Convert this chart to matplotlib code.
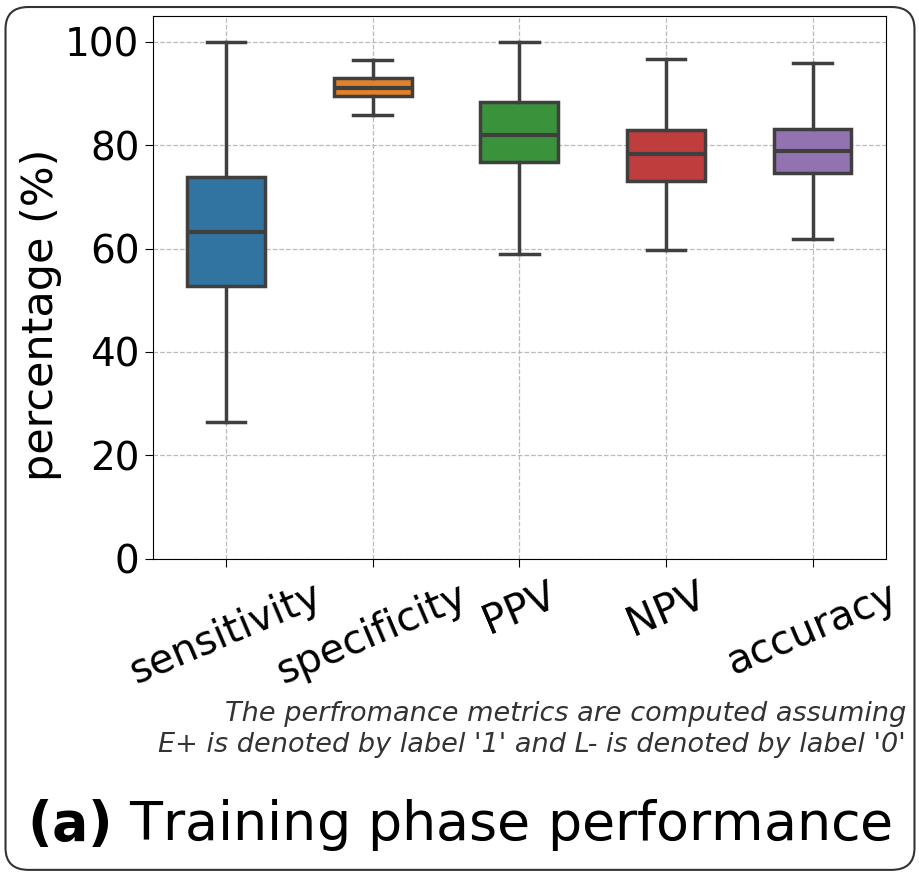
import matplotlib
matplotlib.use("Agg")
import matplotlib.pyplot as plt
from matplotlib.patches import FancyBboxPatch

# --- data ---
metrics = ["sensitivity", "specificity", "PPV", "NPV", "accuracy"]
whis_lo = [26.5, 85.9, 58.9, 59.7, 61.8]
q1 = [52.7, 89.5, 76.7, 73.1, 74.6]
median = [63.2, 91.0, 82.0, 78.3, 78.9]
q3 = [73.8, 93.0, 88.4, 82.9, 83.1]
whis_hi = [100.0, 96.5, 100.0, 96.7, 95.9]

colors = ["#3274a1", "#e1812c", "#3a923a", "#c03d3e", "#9372b2"]
edge = "#3f3f3f"

stats = []
for i, name in enumerate(metrics):
    stats.append({
        "label": name, "med": median[i], "q1": q1[i], "q3": q3[i],
        "whislo": whis_lo[i], "whishi": whis_hi[i], "fliers": [],
    })

fig = plt.figure(figsize=(9.2, 8.76), dpi=100)
ax = fig.add_axes([0.166, 0.362, 0.797, 0.62])

bp = ax.bxp(stats, positions=range(len(metrics)), widths=0.53,
            patch_artist=True, showfliers=False,
            boxprops=dict(linewidth=2.5, edgecolor=edge),
            medianprops=dict(color=edge, linewidth=3),
            whiskerprops=dict(color=edge, linewidth=2.5),
            capprops=dict(color=edge, linewidth=2.5))
for patch, c in zip(bp["boxes"], colors):
    patch.set_facecolor(c)

ax.set_xlim(-0.5, 4.5)
ax.set_ylim(0, 105)
ax.set_yticks([0, 20, 40, 60, 80, 100])
ax.grid(True, linestyle="--", color="#bbbbbb", linewidth=0.9)
ax.set_axisbelow(True)
ax.tick_params(axis="y", labelsize=28, length=6)
ax.tick_params(axis="x", labelsize=29, length=6, pad=6)
ax.set_xticks(range(len(metrics)))
ax.set_xticklabels(metrics, rotation=23, ha="center")
ax.set_ylabel("percentage (%)", fontsize=31)
ax.yaxis.set_label_coords(-0.124, 0.449)

fig.text(0.985, 0.167, "The perfromance metrics are computed assuming\n"
         "E+ is denoted by label '1' and L- is denoted by label '0'",
         ha="right", va="center", style="italic", fontsize=19.5,
         color="#333333", linespacing=1.25)
fig.text(0.5, 0.058, r"$\bf{(a)}$ Training phase performance", ha="center",
         va="center", fontsize=38.8)

frame = FancyBboxPatch((0.006, 0.007), 0.988, 0.985, transform=fig.transFigure,
                       boxstyle="round,pad=0,rounding_size=0.025",
                       facecolor="none", edgecolor="#333333", linewidth=1.5)
fig.patches.append(frame)

fig.savefig("out.png", dpi=100)
